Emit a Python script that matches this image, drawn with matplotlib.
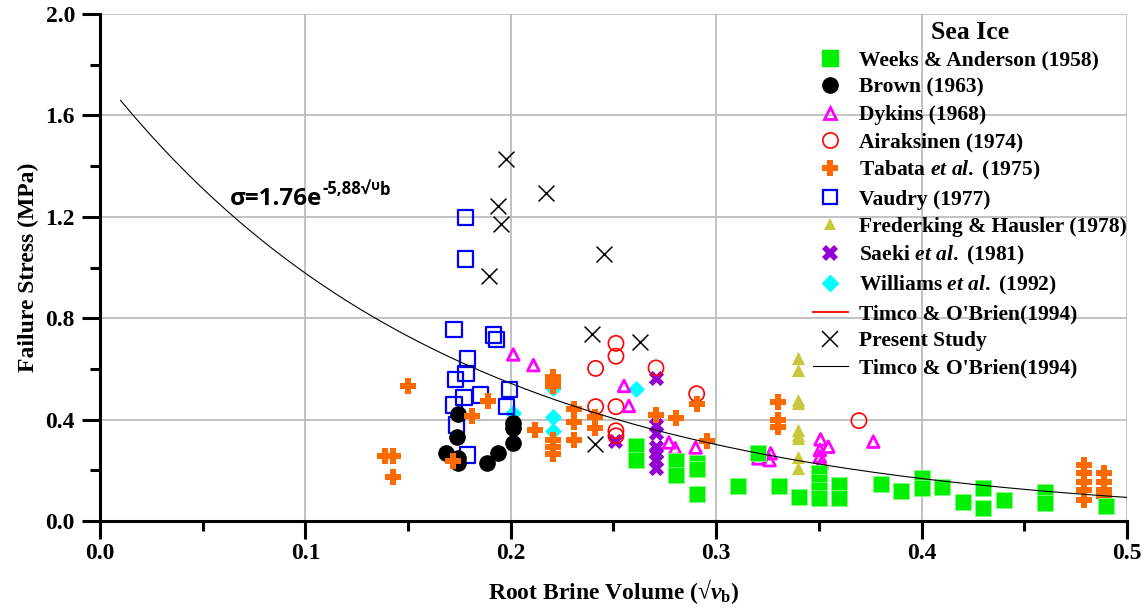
import numpy as np
import matplotlib.pyplot as plt
from matplotlib.lines import Line2D
from matplotlib.ticker import MultipleLocator

plt.rcParams['font.family'] = 'Liberation Serif'
plt.rcParams['font.weight'] = 'bold'
plt.rcParams['mathtext.fontset'] = 'custom'
plt.rcParams['mathtext.rm'] = 'Liberation Serif:bold'
plt.rcParams['mathtext.it'] = 'Liberation Serif:italic'
plt.rcParams['mathtext.bf'] = 'Liberation Serif:bold:italic'

# sea ice failure stress vs root brine volume, by source
weeks_x = [0.261, 0.261, 0.2805, 0.2805, 0.2905, 0.2905, 0.2905, 0.3108, 0.3205, 0.3307,
           0.3405, 0.350, 0.350, 0.350, 0.350, 0.360, 0.360, 0.380, 0.390, 0.400,
           0.400, 0.410, 0.420, 0.430, 0.430, 0.440, 0.460, 0.460, 0.490]
weeks_y = [0.296, 0.242, 0.236, 0.180, 0.228, 0.205, 0.108, 0.138, 0.267, 0.138,
           0.093, 0.188, 0.155, 0.122, 0.090, 0.142, 0.090, 0.146, 0.120, 0.168,
           0.129, 0.133, 0.076, 0.129, 0.050, 0.083, 0.116, 0.070, 0.059]

brown_x = [0.1745, 0.2012, 0.2012, 0.174, 0.2012, 0.1685, 0.1936, 0.1745, 0.1745, 0.1882]
brown_y = [0.422, 0.385, 0.365, 0.330, 0.306, 0.267, 0.267, 0.247, 0.228, 0.230]

dykins_x = [0.2012, 0.211, 0.2551, 0.2575, 0.277, 0.280, 0.290, 0.3205, 0.3265, 0.326,
            0.3508, 0.3546, 0.3505, 0.3505, 0.3513, 0.3765]
dykins_y = [0.657, 0.615, 0.533, 0.454, 0.310, 0.287, 0.290, 0.247, 0.267, 0.240,
            0.322, 0.293, 0.280, 0.254, 0.230, 0.313]

airak_x = [0.2512, 0.2512, 0.2413, 0.2707, 0.2413, 0.2512, 0.2512, 0.2512, 0.2905, 0.3695]
airak_y = [0.701, 0.650, 0.602, 0.604, 0.451, 0.451, 0.356, 0.336, 0.502, 0.396]

tabata_x = [0.1498, 0.1887, 0.181, 0.1388, 0.1428, 0.1428, 0.172, 0.2207, 0.2207, 0.2207,
            0.2118, 0.2207, 0.2207, 0.2207, 0.2309, 0.2309, 0.2309, 0.241, 0.241, 0.2707,
            0.2804, 0.2905, 0.2954, 0.3303, 0.3303, 0.3303,
            0.479, 0.479, 0.479, 0.479, 0.479, 0.4888, 0.4888, 0.4888, 0.4888]
tabata_y = [0.533, 0.475, 0.414, 0.256, 0.256, 0.175, 0.235, 0.568, 0.550, 0.533,
            0.359, 0.320, 0.290, 0.265, 0.440, 0.390, 0.320, 0.411, 0.366, 0.418,
            0.405, 0.460, 0.316, 0.471, 0.398, 0.370,
            0.221, 0.188, 0.155, 0.122, 0.083, 0.188, 0.155, 0.122, 0.100]

vaudry_x = [0.1779, 0.1779, 0.1724, 0.1915, 0.1931, 0.1789, 0.1782, 0.1729, 0.1993, 0.1853,
            0.1772, 0.1724, 0.198, 0.1736, 0.1789]
vaudry_y = [1.197, 1.034, 0.756, 0.734, 0.717, 0.639, 0.583, 0.559, 0.520, 0.497,
            0.488, 0.458, 0.451, 0.379, 0.260]

fred_x = [0.340] * 9
fred_y = [0.642, 0.596, 0.477, 0.464, 0.359, 0.339, 0.326, 0.254, 0.208]

saeki_x = [0.2705, 0.2705, 0.2705, 0.2705, 0.2705, 0.2705, 0.2705, 0.2507]
saeki_y = [0.563, 0.378, 0.346, 0.293, 0.267, 0.241, 0.208, 0.315]

williams_x = [0.2012, 0.2012, 0.2207, 0.2207, 0.2207, 0.261]
williams_y = [0.425, 0.370, 0.525, 0.411, 0.356, 0.520]

present_x = [0.1979, 0.2171, 0.1936, 0.1952, 0.2455, 0.1895, 0.2394, 0.2629, 0.241]
present_y = [1.428, 1.293, 1.243, 1.172, 1.052, 0.966, 0.738, 0.705, 0.304]

# Timco & O'Brien (1994) fit
fit_a = 1.76
fit_b = 5.88
fit_x = np.linspace(0.01, 0.5, 200)
fit_y = fit_a * np.exp(-fit_b * fit_x)

fig = plt.figure(figsize=(11.48, 6.10), dpi=100)
ax = fig.add_axes([0.0871, 0.1459, 0.8946, 0.8311])

c_green = '#00f000'
c_mag = '#ff00ff'
c_red = '#ff0000'
c_orange = '#ff6a00'
c_blue = '#0000ff'
c_olive = '#c8c83c'
c_purple = '#9400d3'
c_cyan = '#00ffff'

ax.scatter(williams_x, williams_y, marker='D', s=60, color=c_cyan, zorder=3)
ax.scatter(vaudry_x, vaudry_y, marker='s', s=120, facecolor='none', edgecolor=c_blue, linewidth=1.6, zorder=3)
ax.scatter(brown_x, brown_y, marker='o', s=120, color='black', zorder=4)
ax.scatter(saeki_x, saeki_y, marker='X', s=120, color=c_purple, linewidth=0, zorder=4)
ax.scatter(airak_x, airak_y, marker='o', s=120, facecolor='none', edgecolor=c_red, linewidth=1.2, zorder=4)
ax.scatter(tabata_x, tabata_y, marker='P', s=120, color=c_orange, linewidth=0, zorder=4)
ax.scatter(dykins_x, dykins_y, marker='^', s=70, facecolor='none', edgecolor=c_mag, linewidth=2, zorder=4)
ax.scatter(weeks_x, weeks_y, marker='s', s=140, color=c_green, edgecolor='#80ff80', linewidth=0.6, zorder=5)
ax.scatter(fred_x, fred_y, marker='^', s=90, color=c_olive, linewidth=0, zorder=5)
ax.scatter(present_x, present_y, marker='x', s=130, color='black', linewidth=1.1, zorder=6)
ax.plot(fit_x, fit_y, color='black', linewidth=0.8, zorder=6)

ax.set_xlim(0, 0.5)
ax.set_ylim(0, 2.0)
ax.xaxis.set_major_locator(MultipleLocator(0.1))
ax.xaxis.set_minor_locator(MultipleLocator(0.05))
ax.yaxis.set_major_locator(MultipleLocator(0.4))
ax.yaxis.set_minor_locator(MultipleLocator(0.2))
ax.xaxis.set_major_formatter(plt.FormatStrFormatter('%.1f'))
ax.yaxis.set_major_formatter(plt.FormatStrFormatter('%.1f'))
ax.grid(True, which='major', color='#bdbdbd', linewidth=1.3, zorder=0)
ax.set_axisbelow(True)
for s in ['top', 'right']:
    ax.spines[s].set_visible(False)
for s in ['left', 'bottom']:
    ax.spines[s].set_linewidth(2.2)
ax.tick_params(which='major', length=13, width=2.2, labelsize=17, pad=5)
ax.tick_params(which='minor', length=7, width=2.2)
ax.tick_params(axis='x', which='major', pad=3)

ax.set_xlabel(r'Root Brine Volume (√$\mathbf{v}_\mathrm{b}$)', fontsize=17, fontweight='bold', labelpad=9)
ax.set_ylabel('Failure Stress (MPa)', fontsize=17, fontweight='bold', labelpad=5)

# fit equation, exponent built from separate pieces
eq_font = ['Open Sans', 'DejaVu Sans']
eq = ax.text(0.063, 1.245, 'σ=1.76e', fontsize=17.5, family=eq_font, weight='bold', va='baseline', zorder=7)
fig.canvas.draw()
bb = eq.get_window_extent()
base_px = ax.transData.transform((0.063, 1.245))[1]
sup = ax.annotate('-5,88√', xy=(bb.x1 + 1, base_px + 11), xycoords='figure pixels',
                  fontsize=12, family=eq_font, weight='bold', va='baseline', ha='left', zorder=7)
fig.canvas.draw()
sb = sup.get_window_extent()
ups = ax.annotate('υ', xy=(sb.x1, base_px + 15), xycoords='figure pixels',
                  fontsize=10, family=eq_font, weight='bold', va='baseline', ha='left', zorder=7)
fig.canvas.draw()
ub = ups.get_window_extent()
ax.annotate('b', xy=(ub.x1, base_px + 10), xycoords='figure pixels',
            fontsize=12, family=eq_font, weight='bold', va='baseline', ha='left', zorder=7)

handles = [
    Line2D([], [], linestyle='none', marker='s', markersize=11, color=c_green),
    Line2D([], [], linestyle='none', marker='o', markersize=11, color='black'),
    Line2D([], [], linestyle='none', marker='^', markersize=8, markerfacecolor='none', markeredgecolor=c_mag, markeredgewidth=2),
    Line2D([], [], linestyle='none', marker='o', markersize=11, markerfacecolor='none', markeredgecolor=c_red, markeredgewidth=1.2),
    Line2D([], [], linestyle='none', marker='P', markersize=11, color=c_orange, markeredgewidth=0),
    Line2D([], [], linestyle='none', marker='s', markersize=10, markerfacecolor='none', markeredgecolor=c_blue, markeredgewidth=1.6),
    Line2D([], [], linestyle='none', marker='^', markersize=9, color=c_olive, markeredgewidth=0),
    Line2D([], [], linestyle='none', marker='X', markersize=11, color=c_purple, markeredgewidth=0),
    Line2D([], [], linestyle='none', marker='D', markersize=8, color=c_cyan),
    Line2D([], [], color=c_red, linewidth=1.3),
    Line2D([], [], linestyle='none', marker='x', markersize=11, color='black', markeredgewidth=1.1),
    Line2D([], [], color='black', linewidth=0.8),
]
labels = [
    'Weeks & Anderson (1958)',
    'Brown (1963)',
    'Dykins (1968)',
    'Airaksinen (1974)',
    r'Tabata $\mathit{et\ al.}$ (1975)',
    'Vaudry (1977)',
    'Frederking & Hausler (1978)',
    r'Saeki $\mathit{et\ al.}$ (1981)',
    r'Williams $\mathit{et\ al.}$ (1992)',
    "Timco & O'Brien(1994)",
    'Present Study',
    "Timco & O'Brien(1994)",
]
leg = ax.legend(handles, labels, loc='upper left', bbox_to_anchor=(0.694, 0.987),
                frameon=False, fontsize=15.5, title='Sea Ice', title_fontsize=18.5,
                labelspacing=0.33, handlelength=1.65, handletextpad=0.5,
                borderpad=0, borderaxespad=0)
leg.get_title().set_fontweight('bold')

fig.savefig('out.png', dpi=100)
